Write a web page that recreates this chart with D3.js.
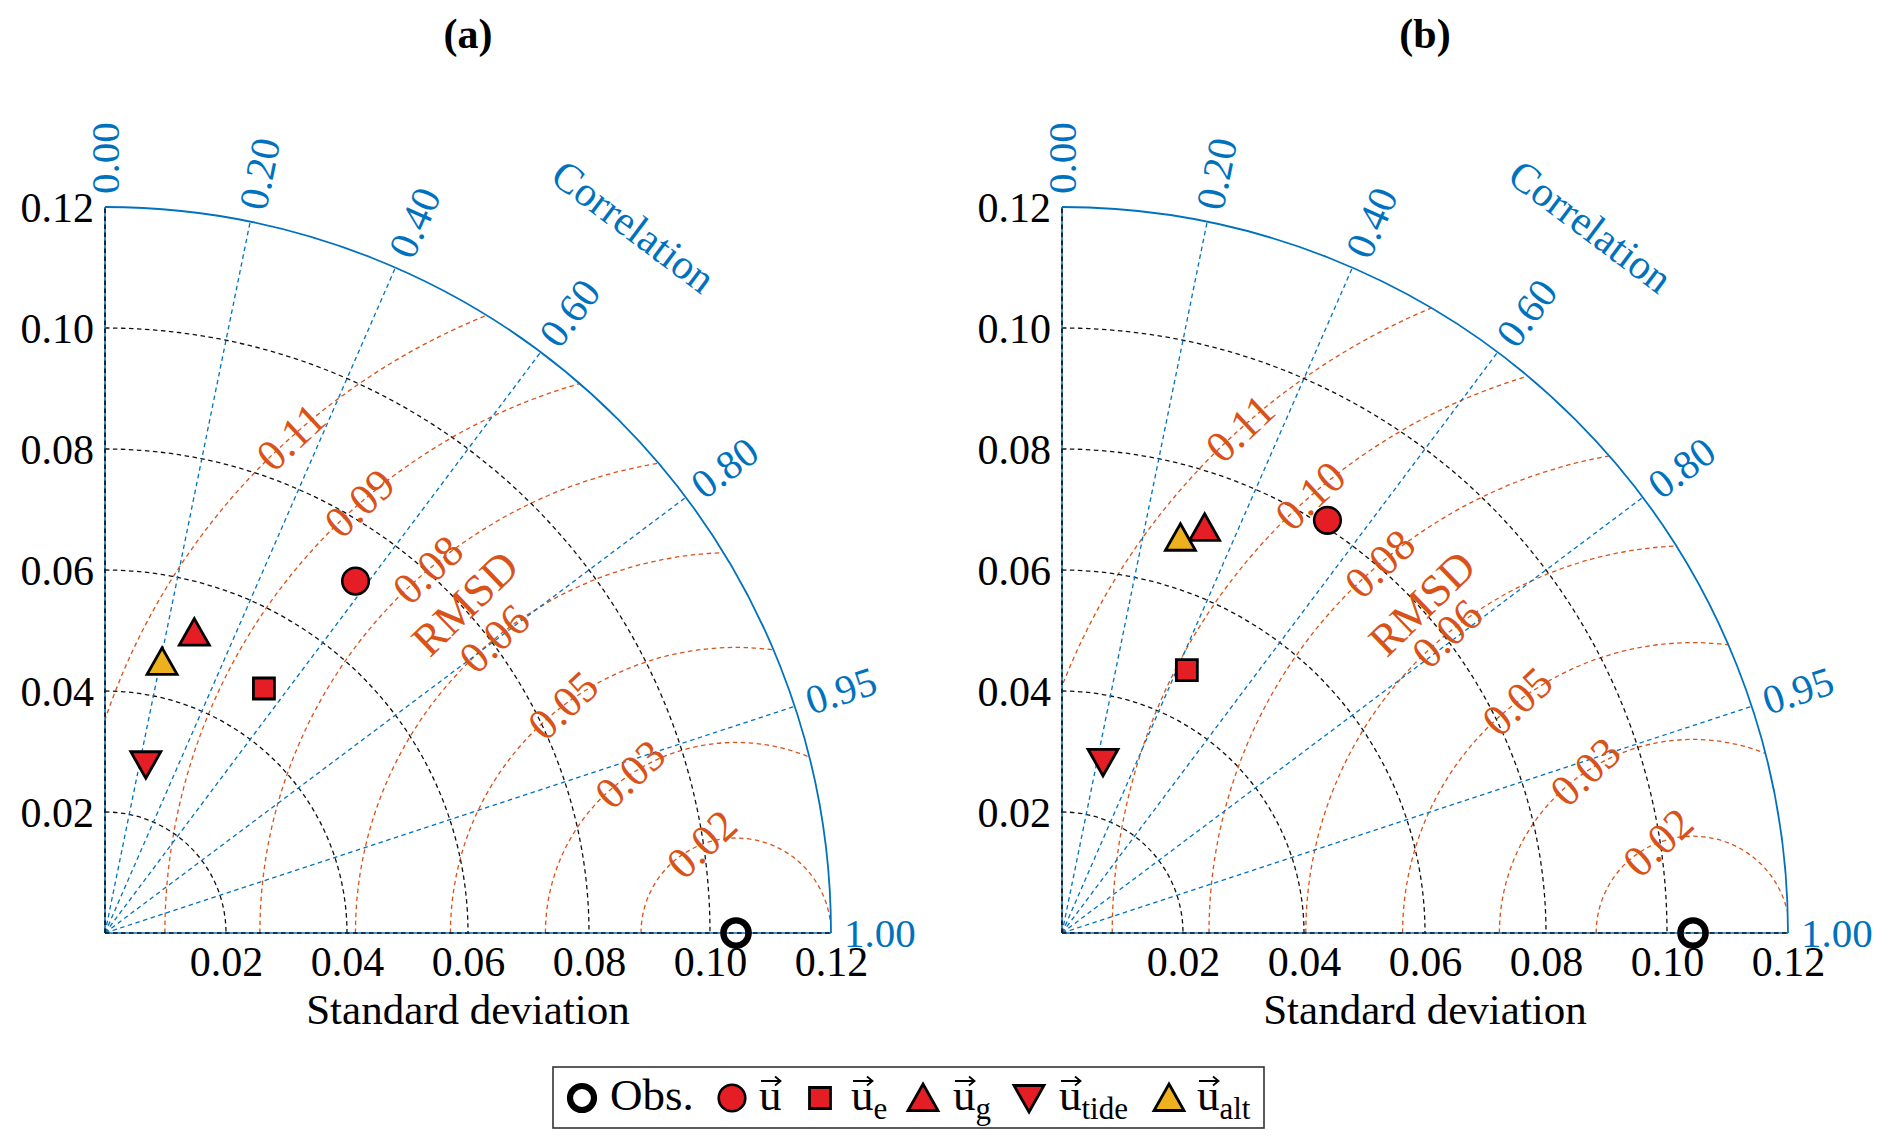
<!DOCTYPE html>
<html>
<head>
<meta charset="utf-8">
<script src="https://cdn.jsdelivr.net/npm/d3@7"></script>
<style>
  body { margin: 0; background: #fff; }
  svg { display: block; font-family: "Liberation Serif", "Times New Roman", serif; }
</style>
</head>
<body>
<svg id="chart" width="1892" height="1148"></svg>
<script>
// DATA ___________________________________________________________
const PANEL_TITLES = ['(a)', '(b)'];
const SERIES = ['u', 'u_e', 'u_g', 'u_tide', 'u_alt'];
const SERIES_SUB = ['', 'e', 'g', 'tide', 'alt'];
const SERIES_SHAPE = ['circle', 'square', 'triUp', 'triDown', 'triUp'];
const SERIES_FILL = ['#e41e24', '#e41e24', '#e41e24', '#e41e24', '#edb120'];

const OBS_STD = [0.1043, 0.1043];

// per panel: standard deviation and correlation of each series
const STD_A = [0.0714, 0.0482, 0.0518, 0.0287, 0.0458];
const CORR_A = [0.580, 0.545, 0.285, 0.235, 0.206];
const STD_B = [0.0811, 0.0481, 0.0710, 0.0291, 0.0682];
const CORR_B = [0.541, 0.429, 0.332, 0.233, 0.287];

const STD_TICKS = [0.02, 0.04, 0.06, 0.08, 0.10, 0.12];
const CORR_TICKS = [0.00, 0.20, 0.40, 0.60, 0.80, 0.95, 1.00];
const RMSD_A = [0.0157, 0.0315, 0.0472, 0.0629, 0.0787, 0.0944, 0.1101];
const RMSD_B = [0.0160, 0.0320, 0.0480, 0.0640, 0.0800, 0.0960, 0.1120];
//________________________________________________________________________________________


// LAYOUT / STYLE___________________________________________________________
const STD_MAX = 0.12;
const RADIUS = 726;
const ORIGINS = [{x: 105, y: 933}, {x: 1062, y: 933}];
const RMSD_LABEL_ANGLE = [111, 123.7, 127.2, 129.4, 130.3, 131.2, 131.9]; // degrees around obs point
const RMSD_TITLE = {r: 0.0705, angle: 129.4};

const BLUE = '#0072bd';
const ORANGE = '#d95319';
const FONT = '"Liberation Serif", "Times New Roman", serif';
const DASH = '4.5,3.5';
//________________________________________________________________________________________

const svg = d3.select('#chart');
const fmt = d3.format('.2f');

function markerPath(shape) {
    if (shape === 'square') return 'M-10.5,-10.5H10.5V10.5H-10.5Z';
    if (shape === 'triUp') return 'M0,-14L15,12.5L-15,12.5Z';
    if (shape === 'triDown') return 'M0,14L15,-12.5L-15,-12.5Z';
    return null;
}

function drawMarker(g, shape, fill, x, y) {
    if (shape === 'circle') {
        g.append('circle').attr('cx', x).attr('cy', y).attr('r', 13.3)
            .attr('fill', fill).attr('stroke', '#000').attr('stroke-width', 2.6);
    } else {
        g.append('path').attr('d', markerPath(shape))
            .attr('transform', `translate(${x},${y})`)
            .attr('fill', fill).attr('stroke', '#000').attr('stroke-width', 2.8)
            .attr('stroke-linejoin', 'miter');
    }
}

function drawPanel(i, stds, corrs, rmsdLevels) {
    const o = ORIGINS[i];
    const r = d3.scaleLinear().domain([0, STD_MAX]).range([0, RADIUS]);
    const xScale = d3.scaleLinear().domain([0, STD_MAX]).range([o.x, o.x + RADIUS]);
    const yScale = d3.scaleLinear().domain([0, STD_MAX]).range([o.y, o.y - RADIUS]);
    const pos = (s, c) => {
        const th = Math.acos(c);
        return [xScale(s * Math.cos(th)), yScale(s * Math.sin(th))];
    };

    const g = svg.append('g');

    // clip to quarter disc
    const clipId = 'clip' + i;
    const cp = d3.path();
    cp.moveTo(o.x, o.y);
    cp.lineTo(o.x, o.y - RADIUS);
    cp.arc(o.x, o.y, RADIUS, -Math.PI / 2, 0);
    cp.closePath();
    svg.append('clipPath').attr('id', clipId).append('path').attr('d', cp.toString());

    // RMSD arcs (around observation)
    const obsX = xScale(OBS_STD[i]);
    const gr = g.append('g').attr('clip-path', `url(#${clipId})`);
    rmsdLevels.forEach(function(lv) {
        const p = d3.path();
        p.arc(obsX, o.y, r(lv), -Math.PI, 0);
        gr.append('path').attr('d', p.toString()).attr('fill', 'none')
            .attr('stroke', ORANGE).attr('stroke-width', 1.3).attr('stroke-dasharray', DASH);
    });

    // std arcs
    STD_TICKS.filter(t => t < STD_MAX).forEach(function(t) {
        const p = d3.path();
        p.arc(o.x, o.y, r(t), -Math.PI / 2, 0);
        g.append('path').attr('d', p.toString()).attr('fill', 'none')
            .attr('stroke', '#111').attr('stroke-width', 1.3).attr('stroke-dasharray', DASH);
    });

    // correlation rays
    CORR_TICKS.filter(c => c > 0 && c < 1).forEach(function(c) {
        const [x2, y2] = pos(STD_MAX, c);
        g.append('line').attr('x1', o.x).attr('y1', o.y).attr('x2', x2).attr('y2', y2)
            .attr('stroke', BLUE).attr('stroke-width', 1.3).attr('stroke-dasharray', DASH);
    });

    // axes edges: blue solid with black dashes
    [[o.x, o.y - RADIUS], [o.x + RADIUS, o.y]].forEach(function(e) {
        g.append('line').attr('x1', o.x).attr('y1', o.y).attr('x2', e[0]).attr('y2', e[1])
            .attr('stroke', BLUE).attr('stroke-width', 1.6);
        g.append('line').attr('x1', o.x).attr('y1', o.y).attr('x2', e[0]).attr('y2', e[1])
            .attr('stroke', '#111').attr('stroke-width', 1.6).attr('stroke-dasharray', DASH);
    });

    // outer arc
    const outer = d3.path();
    outer.arc(o.x, o.y, RADIUS, -Math.PI / 2, 0);
    g.append('path').attr('d', outer.toString()).attr('fill', 'none')
        .attr('stroke', BLUE).attr('stroke-width', 1.8);

    // std tick labels via axes
    const xAxis = g.append('g').attr('transform', `translate(0,${o.y})`)
        .call(d3.axisBottom(xScale).tickValues(STD_TICKS).tickFormat(fmt).tickSize(0).tickPadding(13));
    const yAxis = g.append('g').attr('transform', `translate(${o.x},0)`)
        .call(d3.axisLeft(yScale).tickValues(STD_TICKS).tickFormat(fmt).tickSize(0).tickPadding(11));
    [xAxis, yAxis].forEach(function(ax) {
        ax.select('.domain').remove();
        ax.selectAll('text').attr('fill', '#000').style('font-family', FONT).style('font-size', '42px');
    });
    xAxis.selectAll('text').attr('dy', '0.72em');
    yAxis.selectAll('text').attr('dy', '0.34em');

    // correlation labels
    CORR_TICKS.forEach(function(c) {
        const th = Math.acos(c);
        const rr = RADIUS + 13;
        const x = o.x + rr * Math.cos(th), y = o.y - rr * Math.sin(th);
        g.append('text').attr('x', x).attr('y', y)
            .attr('transform', `rotate(${-th * 180 / Math.PI},${x},${y})`)
            .attr('dy', '0.33em')
            .attr('fill', BLUE).style('font-size', '41px').text(fmt(c));
    });
    {
        const th = 53.2 * Math.PI / 180, rr = RADIUS * 1.215;
        const x = o.x + rr * Math.cos(th), y = o.y - rr * Math.sin(th);
        g.append('text').attr('x', x).attr('y', y).attr('text-anchor', 'middle').attr('dy', '0.33em')
            .attr('transform', `rotate(${90 - 53.2},${x},${y})`)
            .attr('fill', BLUE).style('font-size', '42px').text('Correlation');
    }

    // RMSD labels
    rmsdLevels.forEach(function(lv, k) {
        const a = RMSD_LABEL_ANGLE[k] * Math.PI / 180;
        const x = obsX + r(lv) * Math.cos(a), y = o.y - r(lv) * Math.sin(a);
        g.append('text').attr('x', x).attr('y', y).attr('text-anchor', 'middle').attr('dy', '0.33em')
            .attr('transform', `rotate(-43,${x},${y})`)
            .attr('fill', ORANGE).style('font-size', '44px').text(fmt(lv));
    });
    {
        const a = RMSD_TITLE.angle * Math.PI / 180;
        const x = obsX + r(RMSD_TITLE.r) * Math.cos(a), y = o.y - r(RMSD_TITLE.r) * Math.sin(a);
        g.append('text').attr('x', x).attr('y', y).attr('text-anchor', 'middle').attr('dy', '0.33em')
            .attr('transform', `rotate(-44,${x},${y})`)
            .attr('fill', ORANGE).style('font-size', '45px').text('RMSD');
    }

    // axis title and panel title
    g.append('text').attr('x', o.x + RADIUS / 2).attr('y', 1024).attr('text-anchor', 'middle')
        .attr('fill', '#000').style('font-size', '43px').text('Standard deviation');
    g.append('text').attr('x', o.x + RADIUS / 2).attr('y', 48).attr('text-anchor', 'middle')
        .attr('fill', '#000').style('font-size', '42px').style('font-weight', 'bold').text(PANEL_TITLES[i]);

    // points
    const gp = g.append('g');
    const [ox, oy] = pos(OBS_STD[i], 1);
    gp.append('circle').attr('cx', ox).attr('cy', oy).attr('r', 12.6)
        .attr('fill', 'none').attr('stroke', '#000').attr('stroke-width', 6.4);
    SERIES.forEach(function(s, k) {
        const [px, py] = pos(stds[k], corrs[k]);
        drawMarker(gp, SERIES_SHAPE[k], SERIES_FILL[k], px, py);
    });
}

drawPanel(0, STD_A, CORR_A, RMSD_A);
drawPanel(1, STD_B, CORR_B, RMSD_B);

// LEGEND___________________________________________________________
const LEG = {x: 553, y: 1067, w: 711, h: 61, cy: 1098, base: 1110};
const LEG_MARK_X = [582, 732, 820, 923, 1029, 1169];
const LEG_TEXT_X = [610, 759, 851, 953, 1059, 1197];
const lg = svg.append('g');
lg.append('rect').attr('x', LEG.x).attr('y', LEG.y).attr('width', LEG.w).attr('height', LEG.h)
    .attr('fill', '#fff').attr('stroke', '#333').attr('stroke-width', 1.6);
lg.append('circle').attr('cx', LEG_MARK_X[0]).attr('cy', LEG.cy).attr('r', 12)
    .attr('fill', 'none').attr('stroke', '#000').attr('stroke-width', 6.2);
lg.append('text').attr('x', LEG_TEXT_X[0]).attr('y', LEG.base).attr('fill', '#000')
    .style('font-size', '45px').text('Obs.');
SERIES.forEach(function(s, k) {
    drawMarker(lg, SERIES_SHAPE[k], SERIES_FILL[k], LEG_MARK_X[k + 1], LEG.cy);
    const tx = LEG_TEXT_X[k + 1];
    const t = lg.append('text').attr('x', tx).attr('y', LEG.base).attr('fill', '#000').style('font-size', '45px');
    t.append('tspan').text('u');
    if (SERIES_SUB[k]) t.append('tspan').attr('dy', 9).style('font-size', '31px').text(SERIES_SUB[k]);
    // vector accent over the u
    const ay = LEG.base - 29;
    lg.append('path')
        .attr('d', `M${tx + 2},${ay}H${tx + 21}M${tx + 16},${ay - 4.5}L${tx + 21.5},${ay}L${tx + 16},${ay + 4.5}`)
        .attr('fill', 'none').attr('stroke', '#000').attr('stroke-width', 1.8);
});
</script>
</body>
</html>
